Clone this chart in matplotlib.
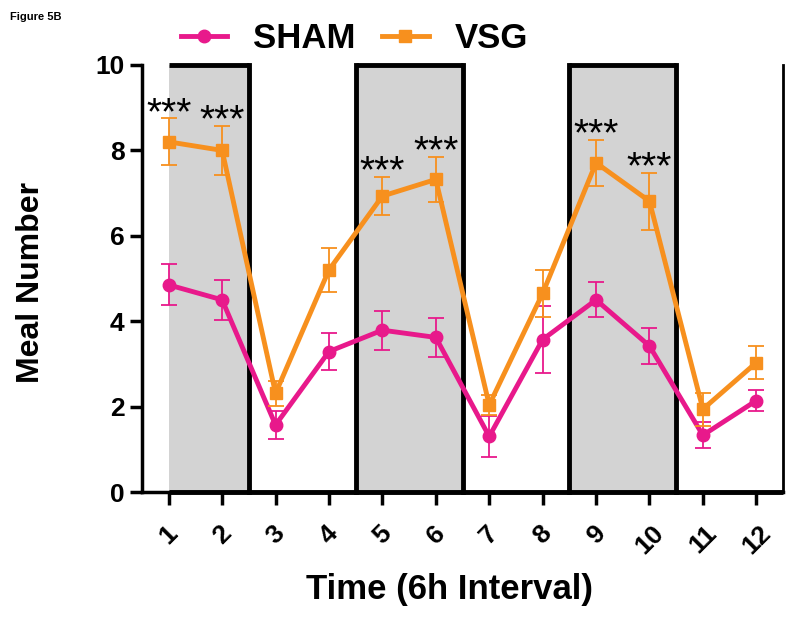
import numpy as np
import matplotlib
matplotlib.use('Agg')
import matplotlib.pyplot as plt
from matplotlib.lines import Line2D

#-----data---------------------------#
interval = [1, 2, 3, 4, 5, 6, 7, 8, 9, 10, 11, 12]
sham = [4.85, 4.5, 1.57, 3.29, 3.79, 3.62, 1.3, 3.57, 4.5, 3.42, 1.33, 2.14]
sham_err = [0.48, 0.47, 0.33, 0.44, 0.46, 0.46, 0.47, 0.79, 0.41, 0.42, 0.3, 0.24]
vsg = [8.2, 8.0, 2.31, 5.2, 6.93, 7.32, 2.04, 4.65, 7.71, 6.81, 1.94, 3.03]
vsg_err = [0.55, 0.57, 0.3, 0.52, 0.45, 0.52, 0.23, 0.55, 0.54, 0.67, 0.39, 0.38]
signif = [1, 2, 5, 6, 9, 10]          # intervals marked ***
dark_start = [1, 4.5, 8.5]            # grey (dark phase) blocks
dark_end = [2.5, 6.5, 10.5]
box_edges = [2.5, 4.5, 6.5, 8.5, 10.5]

pink = '#e8198b'
orange = '#f7901e'

plt.rcParams['font.family'] = ['Liberation Sans', 'DejaVu Sans']
plt.rcParams['font.weight'] = 'bold'

fig = plt.figure(figsize=(8, 6.2), dpi=100)
ax = fig.add_axes([142/800, 1 - 492/620, (783 - 142)/800, (492 - 65)/620])

# grey blocks with black outlines
for s, e in zip(dark_start, dark_end):
    ax.axvspan(s, e, ymin=0, ymax=1, color='#d3d3d3', lw=0, zorder=0)
    ax.plot([s, e], [10, 10], color='black', lw=3.5, solid_capstyle='butt', zorder=1, clip_on=False)
for b in box_edges:
    ax.plot([b, b], [0, 10], color='black', lw=3.5, solid_capstyle='projecting', zorder=1, clip_on=False)
ax.plot([12.5, 12.5], [0, 10], color='black', lw=2, zorder=1, clip_on=False)
ax.plot([1, 12.5], [0, 0], color='black', lw=3.5, solid_capstyle='butt', zorder=1, clip_on=False)

ax.errorbar(interval, sham, yerr=sham_err, color=pink, lw=3.5, marker='o', ms=9,
            ecolor=pink, elinewidth=1.3, capsize=6, capthick=1.3, zorder=3)
ax.errorbar(interval, vsg, yerr=vsg_err, color=orange, lw=3.5, marker='s', ms=9,
            ecolor=orange, elinewidth=1.3, capsize=6, capthick=1.3, zorder=4)

for i in signif:
    top = vsg[i - 1] + vsg_err[i - 1]
    ax.annotate('***', (i, top), xytext=(0, -4), textcoords='offset points',
                ha='center', va='baseline', fontsize=28, fontweight='normal', zorder=5)

ax.set_xlim(0.5, 12.5)
ax.set_ylim(0, 10)
ax.set_yticks([0, 2, 4, 6, 8, 10])
ax.set_xticks(interval)
ax.set_xticklabels([str(i) for i in interval], rotation=45, ha='center')
ax.tick_params(axis='both', width=2.5, length=9, labelsize=19, direction='out')
ax.tick_params(axis='x', pad=12)
for sp in ['top', 'right']:
    ax.spines[sp].set_visible(False)
ax.spines['left'].set_linewidth(2.5)
ax.spines['bottom'].set_linewidth(2.5)

ax.set_ylabel('Meal Number', fontsize=23, fontweight='bold')
ax.yaxis.set_label_coords(-0.15, 0.49)
ax.set_xlabel('Time (6h Interval)', fontsize=25, fontweight='bold')
ax.xaxis.set_label_coords(0.48, -0.19)

handles = [Line2D([], [], color=pink, lw=3.5, marker='o', ms=9),
           Line2D([], [], color=orange, lw=3.5, marker='s', ms=9)]
fig.legend(handles, ['SHAM', 'VSG'], loc='center', bbox_to_anchor=(0.443, 0.938), ncol=2,
           frameon=False, prop={'size': 25, 'weight': 'bold'}, handlelength=1.35,
           handletextpad=0.75, columnspacing=0.75)

fig.text(0.012, 0.972, 'Figure 5B', fontsize=8, fontweight='bold', va='center')

plt.savefig('out.png', dpi=100)
